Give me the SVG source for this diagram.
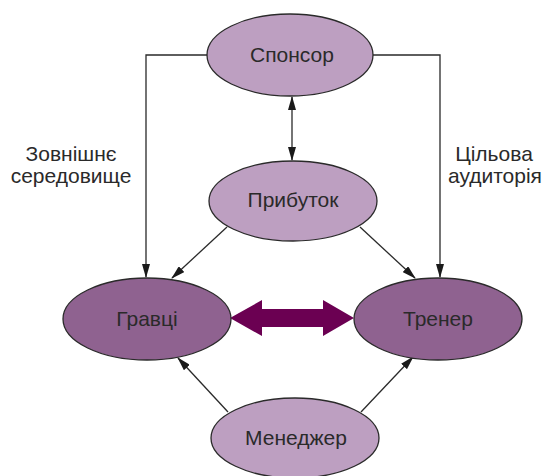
<svg xmlns="http://www.w3.org/2000/svg" width="548" height="476" viewBox="0 0 548 476">
  <style>
    .light { fill: #bd9fc1; stroke: #2a2a2a; stroke-width: 1.3; }
    .dark { fill: #8f6290; stroke: #2a2a2a; stroke-width: 1.3; }
    .lbl { font-family: "Liberation Sans", Arial, sans-serif; font-size: 21px; fill: #2a2a2a; text-anchor: middle; }
    .edge { fill: none; stroke: #2a2a2a; stroke-width: 1.3; }
  </style>
  <defs>
    <marker id="ah" markerWidth="14" markerHeight="8" refX="13" refY="4" orient="auto-start-reverse" markerUnits="userSpaceOnUse">
      <path d="M0,0 L14,4 L0,8 Z" fill="#1a1a1a"/>
    </marker>
  </defs>
  <rect width="548" height="476" fill="#ffffff"/>

  <g id="connectors">
    <path class="edge" d="M208,55 H146 V277" marker-end="url(#ah)"/>
    <path class="edge" d="M373,55 H440 V277" marker-end="url(#ah)"/>
    <path class="edge" d="M292,97 V160" marker-start="url(#ah)" marker-end="url(#ah)"/>
    <path class="edge" d="M227,227 L172,278" marker-end="url(#ah)"/>
    <path class="edge" d="M360,227 L415,278" marker-end="url(#ah)"/>
    <path class="edge" d="M228,412 L178,358" marker-end="url(#ah)"/>
    <path class="edge" d="M361,412 L413,357" marker-end="url(#ah)"/>
    <!-- thick double-headed arrow between players and coach -->
    <path d="M230,318 L262,300 L262,309 L323,309 L323,300 L354,318 L323,336 L323,327 L262,327 L262,336 Z" fill="#6b0052"/>
  </g>

  <g id="sponsor">
    <ellipse class="light" cx="290" cy="55" rx="83" ry="41"/>
    <text class="lbl" x="292" y="62">Спонсор</text>
  </g>
  <g id="profit">
    <ellipse class="light" cx="293" cy="201" rx="84" ry="40"/>
    <text class="lbl" x="293" y="207">Прибуток</text>
  </g>
  <g id="players">
    <ellipse class="dark" cx="147" cy="319" rx="84" ry="41"/>
    <text class="lbl" x="147" y="326">Гравці</text>
  </g>
  <g id="coach">
    <ellipse class="dark" cx="438" cy="319" rx="84" ry="41"/>
    <text class="lbl" x="438" y="326">Тренер</text>
  </g>
  <g id="manager">
    <ellipse class="light" cx="295" cy="438" rx="84" ry="40"/>
    <text class="lbl" x="296" y="445">Менеджер</text>
  </g>

  <g id="labels">
    <text class="lbl" x="71" y="161">Зовнішнє</text>
    <text class="lbl" x="71" y="183">середовище</text>
    <text class="lbl" x="494" y="161">Цільова</text>
    <text class="lbl" x="495" y="183">аудиторія</text>
  </g>
</svg>
